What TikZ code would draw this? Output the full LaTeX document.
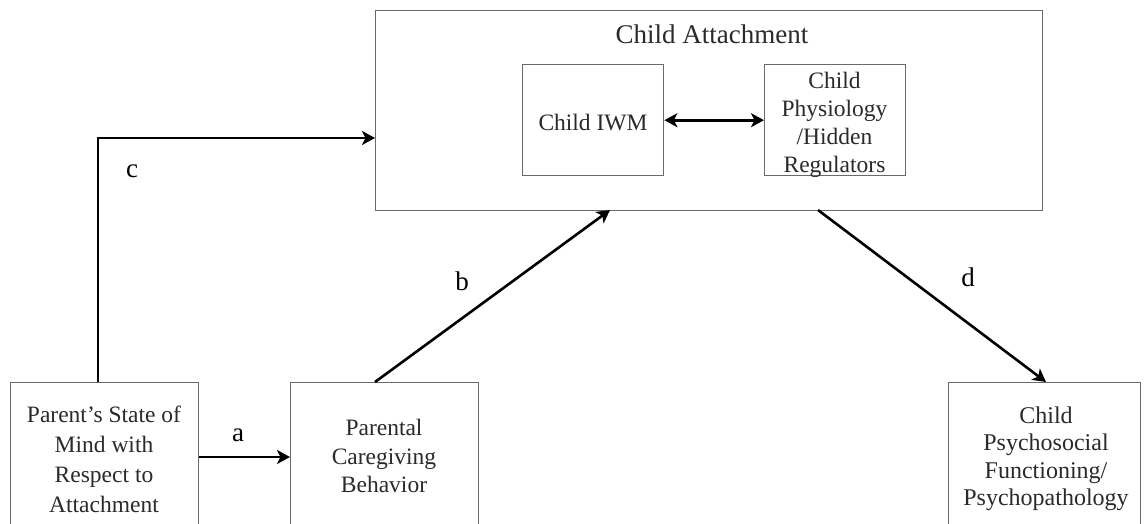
\documentclass[tikz,border=0pt]{standalone}
\usepackage{fontspec}
\setmainfont{Liberation Serif}
\usetikzlibrary{arrows.meta}
\definecolor{boxline}{HTML}{6A6A6A}
\definecolor{txt}{HTML}{2A2A2A}
\begin{document}
\begin{tikzpicture}[x=1pt,y=-1pt,
  box/.style={draw=boxline,line width=1.4pt,fill=white,inner sep=0pt},
  btext/.style={text=txt,font=\fontsize{23.5}{29}\selectfont,align=center,inner sep=0pt},
  tip/.tip={Stealth[length=13pt,width=14pt,inset=3.5pt]},
  conn/.style={line width=2.6pt,-tip},
  lbl/.style={font=\fontsize{27}{30}\selectfont,text=black}]
\useasboundingbox (0,0) rectangle (1148,523);
\begin{scope}
\clip (0,0) rectangle (1148,523);
% outer box
\node[box,minimum width=667pt,minimum height=200pt,anchor=north west] (ca) at (375,10) {};
\node[btext,font=\fontsize{27}{30}\selectfont,anchor=center] (catitle) at (712,34) {Child Attachment};
\node[box,minimum width=141pt,minimum height=111pt,anchor=north west] (iwm) at (522,64) {};
\node[btext] (iwmt) at (593,123) {Child IWM};
\node[box,minimum width=141pt,minimum height=111pt,anchor=north west] (phys) at (764,64) {};
\node[btext,font=\fontsize{23.5}{28}\selectfont] (physt) at (834.5,125) {Child\\Physiology\\/Hidden\\Regulators};
% bottom boxes
\node[box,minimum width=188pt,minimum height=170pt,anchor=north west] (psm) at (10,382) {};
\node[btext,font=\fontsize{23.5}{30}\selectfont] (psmt) at (104,459) {Parent’s State of\\Mind with\\Respect to\\Attachment};
\node[box,minimum width=188pt,minimum height=170pt,anchor=north west] (pcb) at (290,382) {};
\node[btext,font=\fontsize{23.5}{28.5}\selectfont] (pcbt) at (384,456) {Parental\\Caregiving\\Behavior};
\node[box,minimum width=192pt,minimum height=170pt,anchor=north west] (cpf) at (948,382) {};
\node[btext,font=\fontsize{24}{27.5}\selectfont] (cpft) at (1046,459) {Child\\Psychosocial\\Functioning/\\Psychopathology};
% connectors
\draw[line width=2.6pt,tip-tip] (iwm.east) -- (phys.west);
\draw[conn] (psm.east |- 0,457) -- (pcb.west |- 0,457);
\coordinate (cc) at (98,138);
\draw[conn] (psm.north -| 98,0) -- (cc) -- (ca.west |- cc);
\coordinate (bs) at (375,382);
\coordinate (be) at (610,210);
\draw[conn] (bs) -- (be);
\coordinate (ds) at (818,210);
\coordinate (de) at (1046,382);
\draw[conn] (ds) -- (de);
% labels
\node[lbl] (la) at (238,435) {a};
\node[lbl] (lb) at (462,281) {b};
\node[lbl] (lc) at (132,171) {c};
\node[lbl] (ld) at (968,277) {d};
\end{scope}
\end{tikzpicture}
\end{document}
